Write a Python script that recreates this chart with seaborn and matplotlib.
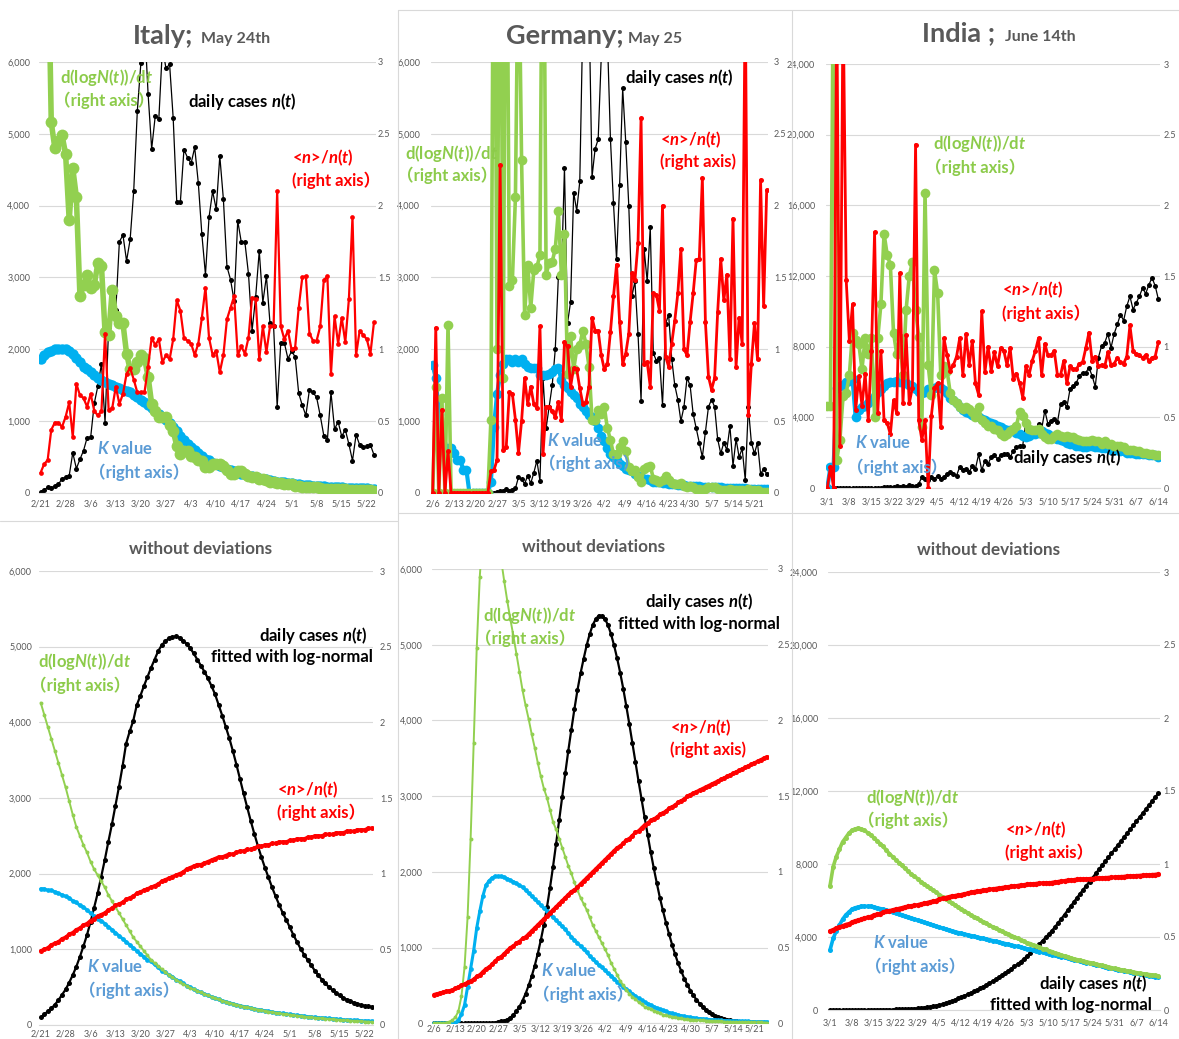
import matplotlib
matplotlib.use("Agg")
import numpy as np
import matplotlib.pyplot as plt
import seaborn as sns
from matplotlib.lines import Line2D
from matplotlib.ticker import FuncFormatter

# ---------------------------------------------------------------- data
# Italy, 2/21 - 5/24 (one value per day)
italy_ticks = ["2/21", "2/28", "3/6", "3/13", "3/20", "3/27", "4/3", "4/10",
               "4/17", "4/24", "5/1", "5/8", "5/15", "5/22"]
italy_cases = [20, 40, 80, 70, 100, 120, 200, 220, 240, 560,
               340, 470, 590, 770, 780, 1250, 1490, 1800, 980, 2310,
               2650, 2550, 3500, 3590, 3230, 3530, 4210, 5320, 5990, 6560,
               5560, 4790, 5250, 5210, 6200, 5910, 5970, 5220, 4050, 4050,
               4780, 4670, 4590, 4810, 4320, 3600, 3040, 3840, 4200, 3950,
               4690, 4090, 3150, 2970, 2670, 3790, 3490, 3490, 3050, 2260,
               2730, 3370, 2650, 3020, 2360, 2320, 1200, 2090, 2090, 1870,
               1970, 1900, 1390, 1220, 1080, 1440, 1400, 1330, 1080, 800,
               740, 1400, 890, 990, 790, 880, 680, 450, 810, 670,
               640, 650, 670, 530]
italy_ratio = [0.14, 0.20, 0.23, 0.44, 0.49, 0.49, 0.46, 0.53, 0.63, 0.39,
               0.76, 0.68, 0.66, 0.60, 0.69, 0.57, 0.54, 0.57, 1.11, 0.58,
               0.59, 0.74, 0.62, 0.69, 0.83, 0.87, 0.79, 0.70, 0.70, 0.70,
               0.88, 1.08, 1.03, 1.07, 0.91, 0.96, 0.93, 1.07, 1.34, 1.27,
               1.08, 1.06, 1.04, 0.96, 1.04, 1.22, 1.43, 1.08, 0.96, 0.99,
               0.84, 0.96, 1.21, 1.29, 1.37, 0.96, 1.02, 0.97, 1.08, 1.36,
               1.35, 0.93, 1.16, 0.98, 1.16, 1.16, 2.10, 1.16, 1.07, 1.13,
               1.00, 1.01, 1.29, 1.50, 1.51, 1.11, 1.06, 1.06, 1.16, 1.48,
               1.51, 0.83, 1.23, 1.04, 1.22, 1.05, 1.35, 1.92, 0.96, 1.13,
               1.10, 1.07, 0.97, 1.19]
italy_growth_first = "2/23"
italy_growth = [4.0, 2.58, 2.40, 2.45, 2.49, 2.36, 1.90, 2.26, 2.06, 1.37,
                1.45, 1.52, 1.43, 1.45, 1.60, 1.58, 1.12, 1.10, 1.41, 1.23,
                1.18, 1.18, 0.97, 0.86, 0.86, 0.91, 0.96, 0.94, 0.81, 0.62,
                0.57, 0.53, 0.53, 0.53, 0.47, 0.43, 0.33, 0.27, 0.29, 0.29,
                0.26, 0.25, 0.23, 0.22, 0.18, 0.18, 0.20, 0.20, 0.20, 0.19,
                0.16, 0.13, 0.13, 0.15, 0.15, 0.13, 0.12, 0.11, 0.11, 0.10,
                0.10, 0.09, 0.08, 0.08, 0.07, 0.07, 0.06, 0.06, 0.06, 0.05,
                0.05, 0.04, 0.04, 0.04, 0.04, 0.04, 0.035, 0.03, 0.03, 0.03,
                0.03, 0.03, 0.025, 0.025, 0.02, 0.02, 0.02, 0.02, 0.02, 0.02,
                0.02, 0.015]
italy_k = [0.93, 0.96, 0.98, 0.99, 1.00, 1.00, 1.00, 1.00, 0.99, 0.97,
           0.94, 0.91, 0.88, 0.86, 0.84, 0.82, 0.80, 0.79, 0.77, 0.76,
           0.75, 0.74, 0.73, 0.72, 0.71, 0.70, 0.68, 0.67, 0.65, 0.63,
           0.61, 0.59, 0.57, 0.55, 0.53, 0.51, 0.49, 0.46, 0.43, 0.40,
           0.37, 0.34, 0.32, 0.30, 0.28, 0.26, 0.24, 0.23, 0.21, 0.20,
           0.19, 0.18, 0.17, 0.16, 0.15, 0.14, 0.135, 0.13, 0.12, 0.115,
           0.11, 0.105, 0.10, 0.095, 0.09, 0.085, 0.08, 0.077, 0.074, 0.07,
           0.067, 0.064, 0.06, 0.058, 0.056, 0.054, 0.052, 0.05, 0.048, 0.046,
           0.044, 0.043, 0.042, 0.04, 0.039, 0.038, 0.037, 0.036, 0.035, 0.034,
           0.033, 0.032, 0.031, 0.030]

# Germany, 2/6 - 5/25
germany_ticks = ["2/6", "2/13", "2/20", "2/27", "3/5", "3/12", "3/19", "3/26",
                 "4/2", "4/9", "4/16", "4/23", "4/30", "5/7", "5/14", "5/21"]
germany_cases = [0, 0, 0, 1, 0, 0, 0, 0, 0, 0,
                 0, 0, 0, 0, 0, 0, 0, 0, 0, 0,
                 2, 8, 22, 31, 51, 29, 37, 66, 220, 188,
                 129, 241, 136, 281, 451, 170, 1600, 900, 1200, 1500,
                 2000, 3000, 3000, 4528, 2365, 2660, 4183, 3930, 4337, 6615,
                 6933, 6824, 4400, 4790, 4923, 6064, 6922, 6365, 4933, 4031,
                 3251, 4289, 5633, 4885, 3990, 2737, 2946, 2218, 1287, 3394,
                 2945, 3699, 1945, 1842, 1881, 1226, 2357, 2481, 1870, 1500,
                 1300, 1000, 1200, 1600, 1500, 1100, 900, 700, 500, 850,
                 1200, 1300, 1200, 750, 550, 700, 600, 930, 380, 750,
                 500, 620, 180, 1200, 700, 550, 700, 270, 330, 270]
germany_ratio = [0, 1.15, 0, 0.58, 0, 0.29, 0, 0, 0, 0,
                 0, 0, 0, 0, 0, 0, 0, 0, 0, 0.15,
                 0.16, 0.23, 2.28, 0.30, 0.32, 0.70, 0.69, 0.51, 0.28, 0.50,
                 0.80, 0.62, 0.74, 0.62, 0.59, 1.16, 0.27, 0.60, 0.60, 0.57,
                 0.53, 0.63, 0.51, 1.05, 1.02, 0.74, 0.87, 0.86, 0.73, 0.62,
                 0.63, 0.74, 1.22, 1.13, 1.13, 0.96, 0.86, 0.90, 1.12, 1.37,
                 1.59, 1.19, 0.90, 0.97, 1.11, 1.53, 1.48, 1.74, 2.61, 0.90,
                 0.91, 0.74, 1.39, 1.38, 1.27, 2.00, 0.95, 0.88, 1.04, 1.20,
                 1.39, 1.70, 1.00, 0.96, 1.19, 1.39, 1.62, 1.63, 2.19, 1.19,
                 0.81, 0.72, 0.80, 1.26, 1.63, 1.34, 1.52, 0.93, 1.91, 0.88,
                 1.22, 1.04, 3.50, 0.54, 0.90, 1.18, 0.93, 2.18, 1.30, 2.11]
germany_growth = [0, 0.74, 0, 0.66, 0, 1.17, 0, 0, 0, 0,
                  0, 0, 0, 0, 0, 0, 0, 0, 0, 0.51,
                  5.0, 1.0, 5.0, 0.8, 5.0, 1.44, 1.48, 2.06, 4.0, 2.32,
                  1.24, 1.59, 1.29, 1.55, 1.57, 1.66, 5.0, 1.52, 1.60, 1.61,
                  1.70, 1.96, 1.52, 1.80, 0.83, 1.09, 0.86, 1.00, 1.03, 1.13,
                  1.04, 0.88, 0.51, 0.51, 0.58, 0.55, 0.60, 0.45, 0.37, 0.27,
                  0.27, 0.32, 0.36, 0.29, 0.18, 0.15, 0.16, 0.11, 0.08, 0.17,
                  0.18, 0.19, 0.10, 0.09, 0.08, 0.09, 0.12, 0.09, 0.07, 0.06,
                  0.06, 0.07, 0.05, 0.04, 0.05, 0.04, 0.03, 0.03, 0.02, 0.03,
                  0.04, 0.04, 0.04, 0.03, 0.02, 0.02, 0.02, 0.03, 0.02, 0.02,
                  0.02, 0.02, 0.01, 0.03, 0.02, 0.02, 0.02, 0.01, 0.01, 0.01]
germany_k = [0.89, 0.80, 0.55, 0.35, 0.31, 0.31, 0.31, 0.28, 0.23, 0.23,
             0.16, 0.16, 0, 0, 0, 0, 0, 0, 0, 0.08,
             0.46, 0.69, 0.82, 0.90, 0.93, 0.93, 0.91, 0.93, 0.91, 0.93,
             0.90, 0.88, 0.87, 0.87, 0.87, 0.82, 0.82, 0.82, 0.83, 0.84,
             0.86, 0.87, 0.79, 0.75, 0.73, 0.70, 0.68, 0.66, 0.62, 0.60,
             0.57, 0.54, 0.53, 0.50, 0.45, 0.40, 0.36, 0.31, 0.27, 0.25,
             0.23, 0.20, 0.19, 0.17, 0.16, 0.15, 0.13, 0.12, 0.11, 0.10,
             0.10, 0.09, 0.08, 0.08, 0.075, 0.07, 0.068, 0.065, 0.062, 0.06,
             0.058, 0.056, 0.054, 0.052, 0.05, 0.048, 0.047, 0.046, 0.045, 0.044,
             0.043, 0.042, 0.041, 0.04, 0.039, 0.038, 0.037, 0.036, 0.035, 0.034,
             0.033, 0.032, 0.032, 0.031, 0.031, 0.03, 0.03, 0.03, 0.03, 0.03]

# India, 3/1 - 6/14
india_ticks = ["3/1", "3/8", "3/15", "3/22", "3/29", "4/5", "4/12", "4/19",
               "4/26", "5/3", "5/10", "5/17", "5/24", "5/31", "6/7", "6/14"]
india_cases = [0, 0, 0, 20, 0, 0, 0, 5, 5, 15,
               5, 10, 10, 20, 10, 25, 15, 25, 30, 60,
               80, 70, 100, 40, 120, 70, 160, 100, 110, 230,
               620, 525, 430, 620, 500, 700, 525, 620, 800, 900,
               800, 700, 1200, 1000, 1100, 900, 1250, 1100, 1900, 1000,
               1550, 1370, 1750, 1840, 1650, 1840, 1930, 1930, 1750, 2100,
               2300, 2400, 2400, 3800, 3060, 3060, 3150, 3620, 3340, 4380,
               3620, 3810, 3900, 3720, 4750, 4850, 4560, 5600, 5780, 5970,
               6350, 6530, 6530, 6820, 6350, 5730, 7380, 8040, 8220, 8730,
               7940, 8730, 9260, 9820, 9480, 10290, 10850, 10100, 10480, 10850,
               11320, 11000, 11500, 11900, 11450, 10700]
india_ratio = [0, 0.15, 0, 3.5, 0.3, 3.5, 1.47, 1.04, 1.30, 0.55,
               0.79, 0.58, 0.81, 0.48, 0.97, 1.81, 0.53, 0.97, 0.48, 0.46,
               0.38, 0.62, 0.53, 1.52, 0.60, 1.08, 0.60, 0.71, 2.43, 0.48,
               0.34, 0.48, 0.00, 0.51, 0.71, 0.74, 0.43, 1.06, 0.94, 0.83,
               0.87, 0.93, 1.06, 0.80, 1.09, 0.87, 1.04, 0.74, 0.66, 1.25,
               0.82, 1.00, 0.83, 0.96, 0.86, 0.99, 0.97, 0.87, 0.99, 0.77,
               0.81, 0.74, 0.64, 0.86, 0.80, 0.90, 0.97, 1.06, 0.80, 1.02,
               0.94, 0.94, 0.97, 0.80, 0.80, 0.90, 0.74, 0.86, 0.84, 0.84,
               0.88, 0.89, 0.99, 1.10, 0.90, 0.93, 0.86, 0.87, 0.86, 0.96,
               0.87, 0.88, 0.92, 0.89, 0.88, 0.93, 1.15, 0.97, 0.95, 0.94,
               0.92, 0.94, 0.90, 0.92, 0.93, 1.03]
india_growth = [0.58, 0.58, 4.0, 0.20, 0.34, 0.65, 0.67, 0.80, 1.10, 1.05,
                1.02, 0.84, 1.06, 0.95, 1.06, 0.50, 1.06, 1.30, 1.80, 1.65,
                1.58, 1.10, 0.95, 1.06, 0.80, 1.26, 1.50, 1.60, 1.26, 1.07,
                0.43, 2.09, 0.87, 0.66, 1.54, 1.38, 0.80, 0.86, 0.83, 0.67,
                0.62, 0.60, 0.57, 0.56, 0.57, 0.56, 0.54, 0.50, 0.57, 0.48,
                0.46, 0.44, 0.44, 0.42, 0.41, 0.38, 0.37, 0.38, 0.40, 0.42,
                0.44, 0.54, 0.51, 0.46, 0.42, 0.41, 0.41, 0.42, 0.38, 0.36,
                0.35, 0.35, 0.37, 0.38, 0.37, 0.36, 0.37, 0.36, 0.36, 0.35,
                0.34, 0.33, 0.33, 0.33, 0.34, 0.33, 0.33, 0.31, 0.33, 0.31,
                0.31, 0.30, 0.30, 0.30, 0.29, 0.27, 0.27, 0.27, 0.26, 0.26,
                0.25, 0.25, 0.24, 0.24, 0.23, 0.23]
india_k = [0.0, 0.15, 0.15, 0.71, 0.72, 0.73, 0.75, 0.76, 0.77, 0.50,
           0.55, 0.57, 0.58, 0.60, 0.62, 0.65, 0.68, 0.70, 0.72, 0.74,
           0.75, 0.75, 0.76, 0.75, 0.75, 0.74, 0.73, 0.72, 0.70, 0.68,
           0.67, 0.68, 0.70, 0.70, 0.71, 0.72, 0.71, 0.69, 0.67, 0.64,
           0.62, 0.60, 0.57, 0.55, 0.54, 0.53, 0.52, 0.51, 0.50, 0.49,
           0.48, 0.47, 0.46, 0.45, 0.44, 0.43, 0.42, 0.41, 0.41, 0.40,
           0.39, 0.38, 0.37, 0.36, 0.37, 0.38, 0.38, 0.39, 0.40, 0.39,
           0.38, 0.37, 0.36, 0.35, 0.34, 0.33, 0.32, 0.31, 0.31, 0.30,
           0.30, 0.29, 0.29, 0.30, 0.30, 0.29, 0.29, 0.28, 0.28, 0.28,
           0.27, 0.27, 0.27, 0.26, 0.26, 0.25, 0.25, 0.25, 0.24, 0.24,
           0.24, 0.24, 0.23, 0.23, 0.23, 0.22]

# Fitted curves ("without deviations")
italy_fit_cases = [100, 140, 180, 220, 270, 330, 400, 470, 560, 660,
                   770, 900, 1040, 1190, 1360, 1550, 1740, 1960, 2180, 2420,
                   2650, 2900, 3150, 3420, 3720, 3880, 4020, 4230, 4350, 4480,
                   4600, 4720, 4830, 4940, 5020, 5070, 5110, 5130, 5135, 5120,
                   5080, 5040, 4980, 4910, 4830, 4750, 4670, 4580, 4480, 4370,
                   4230, 4090, 3940, 3790, 3620, 3440, 3250, 3060, 2880, 2700,
                   2530, 2370, 2220, 2080, 1950, 1820, 1700, 1590, 1480, 1390,
                   1290, 1190, 1100, 1010, 930, 860, 790, 720, 660, 600,
                   550, 500, 460, 420, 390, 360, 335, 315, 295, 280,
                   265, 255, 245, 240]
italy_fit_ratio = [0.49, 0.50, 0.51, 0.53, 0.54, 0.55, 0.57, 0.58,
                   0.60, 0.61, 0.63, 0.64, 0.66, 0.67, 0.69,
                   0.70, 0.72, 0.73, 0.74, 0.76, 0.77, 0.79,
                   0.80, 0.81, 0.83, 0.84, 0.85, 0.87, 0.88,
                   0.89, 0.90, 0.91, 0.92, 0.93, 0.95, 0.96,
                   0.97, 0.98, 0.99, 1.00, 1.01, 1.03, 1.04,
                   1.05, 1.06, 1.06, 1.07, 1.08, 1.09, 1.10,
                   1.11, 1.11, 1.12, 1.13, 1.13, 1.14, 1.15,
                   1.15, 1.16, 1.16, 1.17, 1.18, 1.18, 1.19,
                   1.19, 1.20, 1.20, 1.21, 1.21, 1.21, 1.22,
                   1.22, 1.23, 1.23, 1.23, 1.24, 1.24, 1.25,
                   1.25, 1.25, 1.26, 1.26, 1.26, 1.27, 1.27,
                   1.27, 1.28, 1.28, 1.28, 1.29, 1.29, 1.29,
                   1.30, 1.30]
italy_fit_growth = [2.13, 2.05, 1.97, 1.89, 1.81, 1.73, 1.65, 1.57, 1.48, 1.39,
                    1.31, 1.25, 1.19, 1.14, 1.08, 1.03, 0.99, 0.95, 0.91, 0.86,
                    0.82, 0.78, 0.74, 0.70, 0.66, 0.62, 0.58, 0.55, 0.52, 0.49,
                    0.46, 0.43, 0.41, 0.39, 0.37, 0.35, 0.33, 0.315, 0.30, 0.285,
                    0.27, 0.26, 0.245, 0.235, 0.225, 0.215, 0.205, 0.195, 0.185, 0.177,
                    0.169, 0.161, 0.154, 0.147, 0.140, 0.134, 0.128, 0.122, 0.117, 0.112,
                    0.107, 0.102, 0.097, 0.093, 0.089, 0.085, 0.081, 0.077, 0.074, 0.071,
                    0.068, 0.065, 0.062, 0.059, 0.056, 0.053, 0.051, 0.048, 0.046, 0.044,
                    0.042, 0.040, 0.038, 0.036, 0.034, 0.032, 0.030, 0.029, 0.027, 0.026,
                    0.025, 0.023, 0.022, 0.021]
italy_fit_k = [0.90, 0.90, 0.89, 0.89, 0.88, 0.87, 0.86, 0.85, 0.84, 0.82,
               0.81, 0.79, 0.78, 0.76, 0.74, 0.72, 0.70, 0.69, 0.67, 0.65,
               0.63, 0.61, 0.59, 0.57, 0.55, 0.53, 0.51, 0.49, 0.47, 0.45,
               0.43, 0.42, 0.40, 0.38, 0.36, 0.35, 0.33, 0.32, 0.30, 0.29,
               0.275, 0.26, 0.25, 0.235, 0.225, 0.215, 0.205, 0.195, 0.185, 0.177,
               0.169, 0.161, 0.154, 0.147, 0.140, 0.134, 0.128, 0.122, 0.117, 0.112,
               0.107, 0.102, 0.098, 0.094, 0.090, 0.086, 0.082, 0.079, 0.076, 0.073,
               0.070, 0.067, 0.064, 0.061, 0.058, 0.056, 0.053, 0.051, 0.049, 0.047,
               0.045, 0.043, 0.041, 0.039, 0.037, 0.035, 0.034, 0.032, 0.031, 0.030,
               0.028, 0.027, 0.026, 0.025]

germany_fit_cases = [0, 0, 0, 0, 0, 0, 0, 0, 0, 0,
                     0, 0, 0, 0, 0, 0, 0, 0, 0, 5,
                     10, 15, 25, 35, 50, 75, 110, 160, 220, 300,
                     390, 500, 620, 760, 920, 1100, 1300, 1530, 1790, 2070,
                     2370, 2680, 2990, 3300, 3600, 3880, 4150, 4400, 4620, 4810,
                     4990, 5140, 5260, 5340, 5385, 5380, 5340, 5260, 5140, 4990,
                     4820, 4630, 4420, 4190, 3950, 3700, 3450, 3200, 2960, 2720,
                     2490, 2260, 2050, 1850, 1660, 1490, 1330, 1180, 1040, 910,
                     790, 690, 590, 510, 430, 370, 310, 260, 220, 180,
                     150, 125, 100, 85, 70, 57, 46, 38, 31, 25,
                     20, 16, 13, 11, 9, 7, 6, 5, 4, 3]
germany_fit_ratio = [0.19, 0.195, 0.20, 0.205, 0.21, 0.215, 0.22, 0.23, 0.24, 0.25,
                     0.26, 0.27, 0.28, 0.29, 0.31, 0.32, 0.34, 0.36, 0.37, 0.39,
                     0.41, 0.43, 0.44, 0.46, 0.48, 0.50, 0.51, 0.53, 0.54, 0.56,
                     0.57, 0.59, 0.61, 0.63, 0.65, 0.67, 0.69, 0.71, 0.73, 0.75,
                     0.77, 0.79, 0.81, 0.83, 0.85, 0.87, 0.88, 0.90, 0.92, 0.94,
                     0.96, 0.98, 1.00, 1.02, 1.04, 1.06, 1.08, 1.10, 1.12, 1.14,
                     1.16, 1.17, 1.19, 1.21, 1.22, 1.24, 1.26, 1.27, 1.29, 1.31,
                     1.32, 1.34, 1.35, 1.36, 1.38, 1.39, 1.40, 1.42, 1.43, 1.44,
                     1.46, 1.47, 1.48, 1.50, 1.51, 1.52, 1.53, 1.54, 1.55, 1.56,
                     1.57, 1.58, 1.59, 1.60, 1.61, 1.62, 1.63, 1.64, 1.65, 1.66,
                     1.67, 1.68, 1.69, 1.70, 1.71, 1.72, 1.73, 1.74, 1.75, 1.76]
germany_fit_growth = [0.0, 0.0, 0.0, 0.0, 0.005, 0.01, 0.02, 0.04, 0.08, 0.18,
                      0.37, 0.70, 1.22, 1.85, 2.48, 2.95, 3.25, 3.42, 3.48, 3.44,
                      3.33, 3.20, 3.06, 2.92, 2.79, 2.67, 2.56, 2.44, 2.32, 2.20,
                      2.10, 2.01, 1.91, 1.82, 1.72, 1.63, 1.55, 1.49, 1.41, 1.33,
                      1.28, 1.22, 1.16, 1.10, 1.04, 0.99, 0.93, 0.88, 0.83, 0.79,
                      0.75, 0.70, 0.65, 0.61, 0.57, 0.53, 0.49, 0.45, 0.40, 0.36,
                      0.32, 0.28, 0.25, 0.22, 0.195, 0.175, 0.16, 0.14, 0.125, 0.11,
                      0.10, 0.092, 0.083, 0.075, 0.065, 0.058, 0.052, 0.047, 0.043, 0.039,
                      0.035, 0.032, 0.029, 0.027, 0.025, 0.023, 0.022, 0.021, 0.020, 0.018,
                      0.017, 0.016, 0.014, 0.013, 0.012, 0.011, 0.010, 0.010, 0.009, 0.009,
                      0.008, 0.008, 0.007, 0.007, 0.007, 0.006, 0.006, 0.006, 0.005, 0.005]
germany_fit_k = [0, 0, 0, 0, 0, 0, 0, 0.005, 0.02, 0.06,
                 0.12, 0.24, 0.36, 0.48, 0.63, 0.74, 0.84, 0.91, 0.94, 0.96,
                 0.97, 0.97, 0.97, 0.965, 0.955, 0.945, 0.935, 0.925, 0.91, 0.90,
                 0.88, 0.86, 0.84, 0.82, 0.80, 0.78, 0.76, 0.74, 0.72, 0.70,
                 0.68, 0.66, 0.64, 0.62, 0.595, 0.57, 0.55, 0.53, 0.51, 0.49,
                 0.47, 0.445, 0.425, 0.405, 0.385, 0.37, 0.35, 0.33, 0.315, 0.295,
                 0.275, 0.26, 0.24, 0.225, 0.21, 0.195, 0.18, 0.165, 0.152, 0.14,
                 0.13, 0.12, 0.11, 0.10, 0.092, 0.085, 0.078, 0.071, 0.065, 0.06,
                 0.055, 0.05, 0.046, 0.042, 0.039, 0.036, 0.033, 0.031, 0.029, 0.027,
                 0.025, 0.023, 0.022, 0.02, 0.019, 0.018, 0.017, 0.016, 0.015, 0.014,
                 0.013, 0.013, 0.012, 0.012, 0.011, 0.011, 0.010, 0.010, 0.009, 0.009]

india_fit_cases = [0, 0, 1, 1, 1, 2, 2, 3, 3, 4,
                   5, 6, 7, 8, 9, 11, 13, 15, 17, 20,
                   23, 30, 35, 42, 50, 58, 68, 80, 95, 110,
                   130, 150, 175, 205, 240, 280, 325, 375, 430, 490,
                   560, 640, 710, 780, 860, 940, 1020, 1100, 1190, 1280,
                   1380, 1480, 1580, 1690, 1800, 1910, 2030, 2150, 2270, 2390,
                   2510, 2650, 2800, 2950, 3110, 3280, 3450, 3620, 3800, 3980,
                   4160, 4350, 4560, 4780, 5000, 5230, 5460, 5690, 5920, 6150,
                   6380, 6600, 6820, 7040, 7260, 7480, 7700, 7920, 8140, 8360,
                   8580, 8800, 9020, 9240, 9460, 9680, 9900, 10120, 10340, 10560,
                   10780, 11000, 11220, 11440, 11660, 11870]
india_fit_ratio = [0.54, 0.55, 0.56, 0.57, 0.575, 0.585, 0.59,
                   0.60, 0.61, 0.615, 0.62, 0.63, 0.635, 0.64,
                   0.65, 0.655, 0.66, 0.67, 0.675, 0.68, 0.685,
                   0.69, 0.695, 0.70, 0.705, 0.71, 0.713, 0.716,
                   0.72, 0.725, 0.73, 0.735, 0.74, 0.745, 0.75,
                   0.76, 0.765, 0.77, 0.775, 0.78, 0.783, 0.786,
                   0.79, 0.795, 0.80, 0.805, 0.81, 0.813, 0.816,
                   0.82, 0.823, 0.826, 0.829, 0.832, 0.835, 0.838,
                   0.84, 0.843, 0.846, 0.849, 0.852, 0.855, 0.857,
                   0.86, 0.862, 0.864, 0.866, 0.868, 0.869, 0.87,
                   0.87, 0.873, 0.876, 0.879, 0.882, 0.885, 0.888,
                   0.89, 0.892, 0.894, 0.895, 0.896, 0.898, 0.899,
                   0.90, 0.902, 0.903, 0.904, 0.906, 0.907, 0.908,
                   0.91, 0.912, 0.913, 0.914, 0.916, 0.917, 0.918,
                   0.92, 0.921, 0.922, 0.924, 0.925, 0.927, 0.928,
                   0.93]
india_fit_growth = [0.85, 0.98, 1.05, 1.10, 1.15, 1.18, 1.21, 1.23, 1.24, 1.245,
                    1.24, 1.23, 1.215, 1.20, 1.18, 1.16, 1.14, 1.12, 1.095, 1.07,
                    1.05, 1.03, 1.01, 0.99, 0.97, 0.95, 0.93, 0.915, 0.90, 0.88,
                    0.865, 0.85, 0.835, 0.82, 0.805, 0.79, 0.775, 0.76, 0.745, 0.73,
                    0.72, 0.705, 0.69, 0.68, 0.665, 0.65, 0.64, 0.63, 0.615, 0.605,
                    0.595, 0.58, 0.57, 0.56, 0.55, 0.54, 0.53, 0.52, 0.51, 0.50,
                    0.49, 0.48, 0.47, 0.46, 0.455, 0.445, 0.44, 0.43, 0.42, 0.415,
                    0.405, 0.40, 0.39, 0.385, 0.375, 0.37, 0.365, 0.355, 0.35, 0.345,
                    0.34, 0.335, 0.33, 0.325, 0.32, 0.315, 0.31, 0.305, 0.30, 0.295,
                    0.29, 0.285, 0.28, 0.276, 0.272, 0.268, 0.264, 0.26, 0.256, 0.252,
                    0.249, 0.246, 0.243, 0.24, 0.237, 0.234]
india_fit_k = [0.41, 0.49, 0.54, 0.58, 0.62, 0.65, 0.67, 0.69, 0.70, 0.705,
               0.71, 0.71, 0.71, 0.71, 0.705, 0.70, 0.695, 0.69, 0.685, 0.678,
               0.672, 0.665, 0.658, 0.651, 0.644, 0.637, 0.63, 0.623, 0.616, 0.609,
               0.602, 0.595, 0.588, 0.581, 0.574, 0.567, 0.56, 0.554, 0.548, 0.542,
               0.536, 0.53, 0.525, 0.52, 0.515, 0.51, 0.505, 0.50, 0.495, 0.49,
               0.485, 0.48, 0.475, 0.47, 0.465, 0.46, 0.455, 0.45, 0.445, 0.44,
               0.435, 0.43, 0.425, 0.42, 0.415, 0.41, 0.405, 0.40, 0.395, 0.39,
               0.385, 0.38, 0.375, 0.37, 0.365, 0.36, 0.355, 0.35, 0.345, 0.34,
               0.335, 0.33, 0.325, 0.32, 0.315, 0.31, 0.305, 0.30, 0.295, 0.29,
               0.285, 0.28, 0.276, 0.272, 0.268, 0.264, 0.26, 0.256, 0.252, 0.248,
               0.244, 0.24, 0.236, 0.232, 0.228, 0.224]

# ---------------------------------------------------------------- style
sns.set_style("white")
plt.rcParams["font.family"] = ["Lato", "Noto Sans CJK JP"]
plt.rcParams["mathtext.fontset"] = "custom"
plt.rcParams["mathtext.rm"] = "Lato"
plt.rcParams["mathtext.it"] = "Lato:italic"
plt.rcParams["mathtext.bf"] = "Lato:bold"
plt.rcParams["mathtext.bfit"] = "Lato:italic:bold"

W, H = 1179, 1039
fig = plt.figure(figsize=(W / 100, H / 100), dpi=100)
fig.patch.set_facecolor("white")

BLACK, RED, GREEN, BLUE = "#000000", "#FF0000", "#92D050", "#00B0F0"
GREEN_TXT, BLUE_TXT = "#8CCB4A", "#5B9BD5"
GRAY, GRID = "#595959", "#D9D9D9"
LABEL_SIZE = 12


def make_panel(x0, x1, ytop, ybot, n, ymax, ystep, ticks, lpad, rpad, bpad):
    ppd = (x1 - x0) / (n - 1)
    left, right = x0 - 0.5 * ppd, x1 + 0.5 * ppd
    ax = fig.add_axes([left / W, 1 - ybot / H, (right - left) / W, (ybot - ytop) / H])
    ax2 = ax.twinx()
    return ax, ax2, dict(n=n, ymax=ymax, ystep=ystep, ticks=ticks,
                         lpad=lpad, rpad=rpad, bpad=bpad)


def finish(ax, ax2, cfg):
    n = cfg["n"]
    ax.set_xlim(-0.5, n - 0.5)
    ax.set_ylim(0, cfg["ymax"])
    ax.set_yticks(np.arange(0, cfg["ymax"] + 1, cfg["ystep"]))
    ax.yaxis.set_major_formatter(FuncFormatter(lambda v, p: f"{int(v):,}"))
    ax.set_xticks(np.arange(0, 7 * len(cfg["ticks"]), 7))
    ax.set_xticklabels(cfg["ticks"])
    ax2.set_ylim(0, 3)
    ax2.set_yticks(np.arange(0, 3.01, 0.5))
    ax2.yaxis.set_major_formatter(FuncFormatter(lambda v, p: f"{v:g}"))
    ax.yaxis.grid(True, color=GRID, lw=0.8)
    ax.xaxis.grid(False)
    ax2.grid(False)
    ax.set_axisbelow(True)
    for s in ax.spines.values():
        s.set_visible(False)
    for s in ax2.spines.values():
        s.set_visible(False)
    ax.spines["bottom"].set_visible(True)
    ax.spines["bottom"].set_color(GRID)
    ax.tick_params(axis="both", length=0, labelsize=6.5, labelcolor=GRAY)
    ax.tick_params(axis="y", pad=cfg["lpad"])
    ax.tick_params(axis="x", pad=cfg["bpad"])
    ax2.tick_params(axis="y", length=0, labelsize=6.5, labelcolor=GRAY, pad=cfg["rpad"])
    ax.set_xlabel("")
    ax.set_ylabel("")
    ax2.set_ylabel("")


def line(ax, vals, color, lw, ms, start=0):
    x = np.arange(start, start + len(vals))
    sns.lineplot(x=x, y=np.asarray(vals, dtype=float), ax=ax, color=color,
                 linewidth=lw, marker="o", markersize=ms, markeredgewidth=0,
                 markeredgecolor=color, estimator=None, errorbar=None,
                 sort=False, legend=False)


def txt(x, y, s, color, size=LABEL_SIZE, ha="left", va="center", weight="bold"):
    fig.text(x / W, 1 - y / H, s, color=color, fontsize=size, ha=ha, va=va,
             fontweight=weight)


GROWTH = r"d(log$\mathbfit{N}$($\mathbfit{t}$))/d$\mathbfit{t}$"
RATIO = r"<$\mathbfit{n}$>/$\mathbfit{n}$($\mathbfit{t}$)"
KVAL = r"$\mathbfit{K}$ value"
CASES = r"daily cases $\mathbfit{n}$($\mathbfit{t}$)"
RA_FW = "（right axis）"
RA_MIX = "(right axis）"
RA_HW = "(right axis)"

# ---------------------------------------------------------------- top row
ax, ax2, cfg = make_panel(40.5, 374, 62, 493, len(italy_cases), 6000, 1000,
                          italy_ticks, 6.0, 1.5, 4.5)
line(ax, italy_cases, BLACK, 0.9, 3.6)
line(ax2, italy_k, BLUE, 3.5, 7.5)
line(ax2, italy_growth, GREEN, 4.0, 8.5, start=italy_ticks.index("2/21") + 2)
line(ax2, italy_ratio, RED, 1.6, 3.4)
finish(ax, ax2, cfg)

ax, ax2, cfg = make_panel(432.7, 766.7, 62, 493, len(germany_cases), 6000, 1000,
                          germany_ticks, 8.0, 4.0, 4.5)
line(ax, germany_cases, BLACK, 0.9, 3.6)
line(ax2, germany_k, BLUE, 3.0, 7.0)
line(ax2, germany_growth, GREEN, 2.6, 7.0)
line(ax2, germany_ratio, RED, 2.0, 3.6)
finish(ax, ax2, cfg)

ax, ax2, cfg = make_panel(827.3, 1158.3, 64, 488, len(india_cases), 24000, 4000,
                          india_ticks, 7.5, 2.5, 6.5)
line(ax, india_cases, BLACK, 0.9, 3.6)
line(ax2, india_k, BLUE, 3.0, 7.0)
line(ax2, india_growth, GREEN, 2.6, 7.0)
line(ax2, india_ratio, RED, 2.0, 3.6)
finish(ax, ax2, cfg)

# ---------------------------------------------------------------- bottom row
ax, ax2, cfg = make_panel(40.7, 371.7, 571, 1025, len(italy_fit_cases), 6000, 1000,
                          italy_ticks, 5.0, 4.7, 3.5)
line(ax, italy_fit_cases, BLACK, 1.6, 3.6)
line(ax2, italy_fit_k, BLUE, 2.2, 3.4)
line(ax2, italy_fit_growth, GREEN, 1.4, 2.8)
line(ax2, italy_fit_ratio, RED, 2.4, 3.6)
finish(ax, ax2, cfg)

ax, ax2, cfg = make_panel(434, 766.7, 569, 1023.3, len(germany_fit_cases), 6000, 1000,
                          germany_ticks, 7.0, 6.5, 1.0)
line(ax, germany_fit_cases, BLACK, 1.6, 3.6)
line(ax2, germany_fit_k, BLUE, 2.2, 3.4)
line(ax2, germany_fit_growth, GREEN, 1.4, 2.8)
line(ax2, germany_fit_ratio, RED, 2.4, 3.6)
finish(ax, ax2, cfg)

ax, ax2, cfg = make_panel(830, 1158.3, 572, 1010, len(india_fit_cases), 24000, 4000,
                          india_ticks, 7.5, 2.5, 6.0)
line(ax, india_fit_cases, BLACK, 1.6, 3.6)
line(ax2, india_fit_k, BLUE, 2.6, 3.6)
line(ax2, india_fit_growth, GREEN, 2.6, 3.6)
line(ax2, india_fit_ratio, RED, 2.6, 3.8)
finish(ax, ax2, cfg)

# ---------------------------------------------------------------- titles
txt(133, 43.5, "Italy;", GRAY, size=19.5, va="baseline")
txt(201, 43.5, "May 24th", GRAY, size=11.5, va="baseline")
txt(506, 43.5, "Germany;", GRAY, size=19.5, va="baseline")
txt(628, 43.5, "May 25", GRAY, size=11.5, va="baseline")
txt(922, 40.7, "India ;", GRAY, size=19.5, va="baseline")
txt(1005, 40.7, "June 14th", GRAY, size=11.5, va="baseline")
txt(201, 554, "without deviations", GRAY, size=12.3, ha="center", va="baseline")
txt(594, 552, "without deviations", GRAY, size=12.3, ha="center", va="baseline")
txt(989, 555, "without deviations", GRAY, size=12.3, ha="center", va="baseline")

# ---------------------------------------------------------------- series labels
FW = 8  # offset of the full-width bracket glyph
# Italy (data)
txt(60, 78, GROWTH, GREEN_TXT)
txt(62 - FW, 100, RA_FW, GREEN_TXT)
txt(188, 101, CASES, BLACK)
txt(292, 158, RATIO, RED)
txt(292, 180, RA_MIX, RED)
txt(97, 448, KVAL, BLUE_TXT)
txt(97 - FW, 472, RA_FW, BLUE_TXT)
# Germany (data)
txt(625, 78, CASES, BLACK)
txt(660, 140, RATIO, RED)
txt(660, 162, RA_HW, RED)
txt(405, 153, GROWTH, GREEN_TXT)
txt(405 - FW, 175, RA_FW, GREEN_TXT)
txt(547, 440, KVAL, BLUE_TXT)
txt(547 - FW, 463, RA_FW, BLUE_TXT)
# India (data)
txt(933, 144, GROWTH, GREEN_TXT)
txt(933 - FW, 167, RA_FW, GREEN_TXT)
txt(1002, 290, RATIO, RED)
txt(1002, 313, RA_MIX, RED)
txt(855, 443, KVAL, BLUE_TXT)
txt(855 - FW, 467, RA_FW, BLUE_TXT)
txt(1013, 457, CASES, BLACK)
# Italy (fit)
txt(368, 636, CASES, BLACK, ha="right")
txt(373, 657, "fitted with log-normal", BLACK, ha="right")
txt(38, 662, GROWTH, GREEN_TXT)
txt(38 - FW, 685, RA_FW, GREEN_TXT)
txt(277, 790, RATIO, RED)
txt(277, 812, RA_MIX, RED)
txt(87, 967, KVAL, BLUE_TXT)
txt(87 - FW, 990, RA_FW, BLUE_TXT)
# Germany (fit)
txt(699, 602, CASES, BLACK, ha="center")
txt(699, 624, "fitted with log-normal", BLACK, ha="center")
txt(483, 615, GROWTH, GREEN_TXT)
txt(483 - FW, 638, RA_FW, GREEN_TXT)
txt(670, 728, RATIO, RED)
txt(670, 750, RA_HW, RED)
txt(541, 971, KVAL, BLUE_TXT)
txt(541 - FW, 994, RA_FW, BLUE_TXT)
# India (fit)
txt(866, 797, GROWTH, GREEN_TXT)
txt(866 - FW, 820, RA_FW, GREEN_TXT)
txt(1005, 830, RATIO, RED)
txt(1005, 852, RA_MIX, RED)
txt(873, 943, KVAL, BLUE_TXT)
txt(873 - FW, 966, RA_FW, BLUE_TXT)
txt(1148, 983, CASES, BLACK, ha="right")
txt(1152, 1005, "fitted with log-normal", BLACK, ha="right")

# ---------------------------------------------------------------- chart frames
def frame_line(xa, ya, xb, yb):
    fig.add_artist(Line2D([xa / W, xb / W], [1 - ya / H, 1 - yb / H],
                          color=GRID, lw=0.8, transform=fig.transFigure))


frame_line(398, 10, 398, 1039)
frame_line(792, 10, 792, 1039)
frame_line(398, 10, 1179, 10)
frame_line(398, 513, 1179, 513)
frame_line(0, 521, 398, 521)

fig.savefig("out.png", dpi=100, facecolor="white")
